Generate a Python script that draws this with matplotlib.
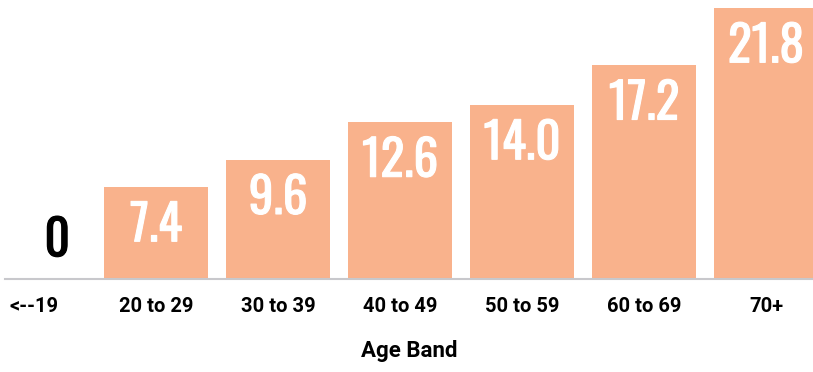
import matplotlib
matplotlib.use("Agg")
import matplotlib.pyplot as plt
import matplotlib.patheffects as pe

# data
bands = ["<--19", "20 to 29", "30 to 39", "40 to 49", "50 to 59", "60 to 69", "70+"]
values = [0, 7.4, 9.6, 12.6, 14.0, 17.2, 21.8]

BAR_COLOR = "#F9B28C"
NUM_FONT = ["Oswald", "Roboto Condensed", "DejaVu Sans"]
FONT = ["Roboto", "DejaVu Sans"]

fig = plt.figure(figsize=(8.13, 3.72), dpi=100)
ax = fig.add_axes([5 / 813, 93 / 372, 808 / 813, 279 / 372])

x = list(range(len(bands)))
ax.bar(x, values, width=0.85, color=BAR_COLOR, zorder=2)

# value labels: white inside the bars, black when the bar is empty
# (thin stroke in the same colour makes Oswald look like its medium weight)
for xi, v in zip(x, values):
    col = "white" if v > 0 else "black"
    fx = [pe.withStroke(linewidth=0.8, foreground=col)]
    if v > 0:
        ax.text(xi, v - 1.15, f"{v:.1f}", ha="center", va="top", color=col,
                fontsize=35.5, family=NUM_FONT, path_effects=fx)
    else:
        ax.text(xi + 0.19, 1.1, f"{v:g}", ha="center", va="bottom", color=col,
                fontsize=35.5, family=NUM_FONT, path_effects=fx)

ax.set_xlim(-0.238, 6.385)
ax.set_ylim(0, 22.45)
ax.set_xticks(x)
ax.set_xticklabels(bands, fontsize=14.5, fontweight="bold", family=FONT)
ax.get_xticklabels()[0].set_x(0.1)
ax.tick_params(axis="x", length=0, pad=13)
ax.set_yticks([])
for side in ["top", "right", "left"]:
    ax.spines[side].set_visible(False)
ax.spines["bottom"].set_color("#c8c8cc")
ax.spines["bottom"].set_linewidth(1.5)
ax.set_xlabel("Age Band", fontsize=16, fontweight="bold", family=FONT, labelpad=17)

fig.savefig("out.png", dpi=100)
